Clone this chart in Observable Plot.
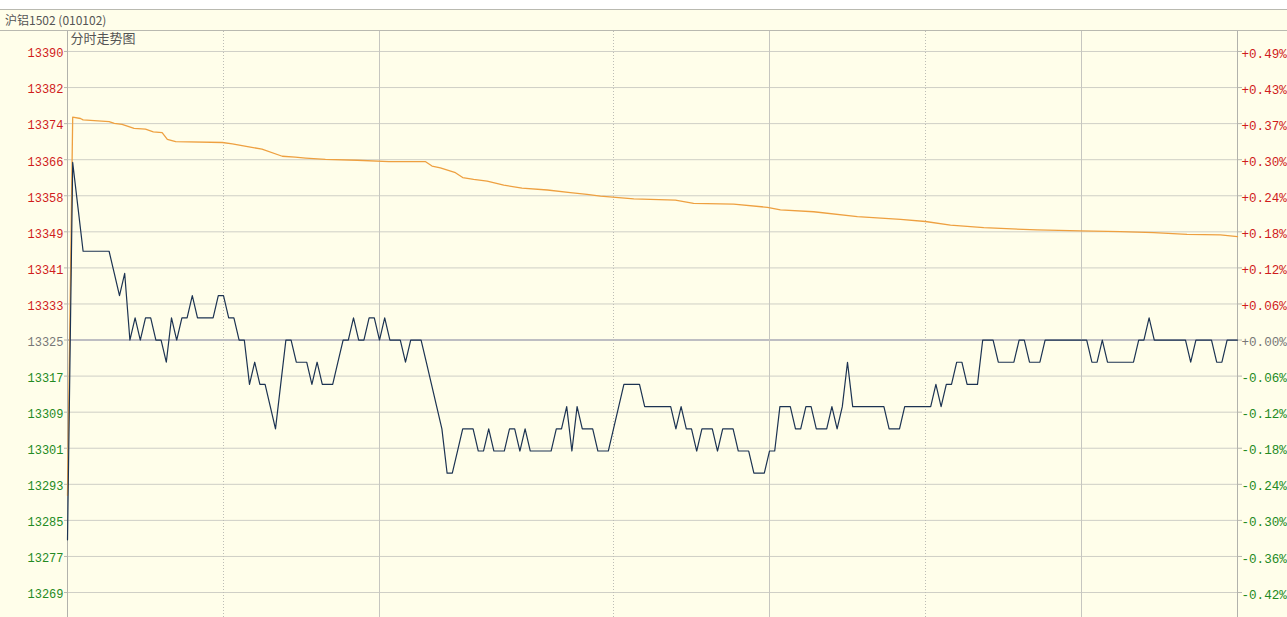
<!DOCTYPE html>
<html><head><meta charset="utf-8">
<script src="https://cdn.jsdelivr.net/npm/d3@7"></script>
<script src="https://cdn.jsdelivr.net/npm/@observablehq/plot@0.6"></script>
<style>
html,body{margin:0;padding:0;background:#fffeea;overflow:hidden;}
#top{height:9px;background:#ffffff;border-bottom:1px solid #b9b9b0;}
#hdr{height:20px;border-bottom:1px solid #b9b9b0;font:12px "Noto Sans CJK SC",sans-serif;color:#555;line-height:20px;padding-left:5px;box-sizing:content-box;}
#chart svg{display:block;}
</style></head><body>
<div id="top"></div><div id="hdr"></div>
<div id="chart"></div>
<script>
// Title texts
const titleText = "沪铝1502 (010102)";
const panelTitle = "分时走势图";

// Y tick labels (top to bottom), price and percent
const leftLabels  = ["13390","13382","13374","13366","13358","13349","13341","13333","13325","13317","13309","13301","13293","13285","13277","13269"];
const rightLabels = ["+0.49%","+0.43%","+0.37%","+0.30%","+0.24%","+0.18%","+0.12%","+0.06%","+0.00%","-0.06%","-0.12%","-0.18%","-0.24%","-0.30%","-0.36%","-0.42%"];
const basePrice = 13325;      // previous settle (0.00%)
const tickStep = 8.125;       // price per grid row

// Vertical grid lines (trading-minute index)
const dottedMinutes = [30, 105, 165];
const solidMinutes = [60, 135, 195];
const borderMinutes = [0, 225];

// Minute price series (index = trading minute)
const price = [
13280,13365,13355,13345,13345,13345,13345,13345,13345,13340,
13335,13340,13325,13330,13325,13330,13330,13325,13325,13320,
13330,13325,13330,13330,13335,13330,13330,13330,13330,13335,
13335,13330,13330,13325,13325,13315,13320,13315,13315,13310,
13305,13315,13325,13325,13320,13320,13320,13315,13320,13315,
13315,13315,13320,13325,13325,13330,13325,13325,13330,13330,
13325,13330,13325,13325,13325,13320,13325,13325,13325,13320,
13315,13310,13305,13295,13295,13300,13305,13305,13305,13300,
13300,13305,13300,13300,13300,13305,13305,13300,13305,13300,
13300,13300,13300,13300,13305,13305,13310,13300,13310,13305,
13305,13305,13300,13300,13300,13305,13310,13315,13315,13315,
13315,13310,13310,13310,13310,13310,13310,13305,13310,13305,
13305,13300,13305,13305,13305,13300,13305,13305,13305,13300,
13300,13300,13295,13295,13295,13300,13300,13310,13310,13310,
13305,13305,13310,13310,13305,13305,13305,13310,13305,13310,
13320,13310,13310,13310,13310,13310,13310,13310,13305,13305,
13305,13310,13310,13310,13310,13310,13310,13315,13310,13315,
13315,13320,13320,13315,13315,13315,13325,13325,13325,13320,
13320,13320,13320,13325,13325,13320,13320,13320,13325,13325,
13325,13325,13325,13325,13325,13325,13325,13320,13320,13325,
13320,13320,13320,13320,13320,13320,13325,13325,13330,13325,
13325,13325,13325,13325,13325,13325,13320,13325,13325,13325,
13325,13320,13320,13325,13325,13325
];

// Average price line, read at its bends (minute, value)
const avgMinute = [0,1,2.5,3,8,9,10.5,12.8,15,16.5,18.2,19.2,20.8,29.8,31.7,34.9,37.4,41.3,43.8,45.8,49.6,55.7,61.8,68.8,70.1,71.7,74.6,76,78.1,80.7,83.9,87.4,92.3,96.7,99.9,102.5,108.9,116.9,120.4,128.1,134.6,137.1,143.5,151.9,160.2,165,169.8,176.2,186.5,194.8,202.5,208.9,215.3,221.7,225];
const avgValue  = [13290,13375.2,13374.9,13374.6,13374.2,13373.8,13373.6,13372.7,13372.5,13371.9,13371.7,13370.2,13369.7,13369.5,13369.2,13368.5,13368.0,13366.4,13366.2,13366.0,13365.7,13365.5,13365.2,13365.2,13364.2,13363.8,13362.7,13361.6,13361.2,13360.8,13359.9,13359.2,13358.8,13358.2,13357.8,13357.4,13356.8,13356.5,13355.8,13355.6,13354.9,13354.3,13353.9,13352.8,13352.2,13351.7,13350.9,13350.3,13349.8,13349.6,13349.4,13349.2,13348.8,13348.7,13348.3];

const ticks = leftLabels.map((l, i) => {
  const k = 8 - i;
  return {v: basePrice + k * tickStep, left: l, right: rightLabels[i], k};
});
const upTicks = ticks.filter(d => d.k > 0);
const zeroTicks = ticks.filter(d => d.k === 0);
const downTicks = ticks.filter(d => d.k < 0);
const avg = avgMinute.map((m, i) => ({m, v: avgValue[i]}));
const pts = price.map((v, i) => ({m: i, v}));

const RED = "#d01c1c", GREEN = "#238a23", GRAY = "#777777";
const leftFont = {fontFamily: "Liberation Mono, monospace", fontSize: 12};
const rightFont = {fontFamily: "Liberation Mono, monospace", fontSize: 12.6};

function labels(data, fill) {
  return [
    Plot.text(data, {y: "v", text: "left", frameAnchor: "left", textAnchor: "end", dx: -4, dy: 2, fill, ...leftFont}),
    Plot.text(data, {y: "v", text: "right", frameAnchor: "right", textAnchor: "start", dx: 4, dy: 2, fill, ...rightFont})
  ];
}

const chart = Plot.plot({
  width: 1287,
  height: 586,
  marginLeft: 67,
  marginRight: 50,
  marginTop: 0,
  marginBottom: 0,
  style: {background: "#fffeea", overflow: "visible"},
  x: {domain: [0, 225], axis: null},
  y: {domain: [13262.5, 13394.5], axis: null},
  marks: [
    Plot.ruleY(ticks.filter(d => d.k !== 0), {y: "v", stroke: "#cfcfc6", strokeWidth: 1}),
    Plot.ruleY(zeroTicks, {y: "v", stroke: "#a8a8b4", strokeWidth: 1.6}),
    Plot.axisY(ticks.map(d => d.v), {anchor: "left", tickSize: 3, tickFormat: () => "", label: null, stroke: "#b8b8b0"}),
    Plot.axisY(ticks.map(d => d.v), {anchor: "right", tickSize: 4, tickFormat: () => "", label: null, stroke: "#b8b8b0"}),
    Plot.ruleX(dottedMinutes, {stroke: "#bdbdb5", strokeDasharray: "1,2"}),
    Plot.ruleX(solidMinutes, {stroke: "#c6c6c0"}),
    Plot.ruleX(borderMinutes, {stroke: "#b2b2ac"}),
    Plot.line(avg, {x: "m", y: "v", stroke: "#eea040", strokeWidth: 1.3}),
    Plot.line(pts, {x: "m", y: "v", stroke: "#1c3352", strokeWidth: 1.2}),
    ...labels(upTicks, RED),
    ...labels(zeroTicks, GRAY),
    ...labels(downTicks, GREEN),
    Plot.text([panelTitle], {frameAnchor: "top-left", text: d => d, dx: 3, dy: 2, textAnchor: "start", lineAnchor: "top", fill: "#555", fontSize: 13, fontFamily: "Noto Sans CJK SC, sans-serif"})
  ]
});
document.getElementById("hdr").textContent = titleText;
document.getElementById("chart").appendChild(chart);
</script>
</body></html>
